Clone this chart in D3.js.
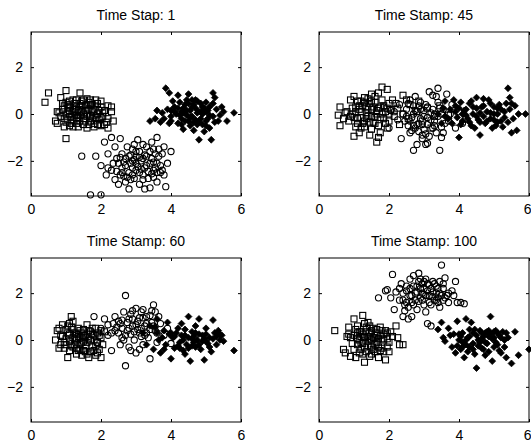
<!DOCTYPE html>
<html>
<head>
<meta charset="utf-8">
<script src="https://cdn.jsdelivr.net/npm/d3@7"></script>
<style>
  html, body { margin: 0; padding: 0; background: #ffffff; }
  svg { display: block; }
  text { font-family: "Liberation Sans", Arial, sans-serif; }
</style>
</head>
<body>
<svg id="chart" width="531" height="444"></svg>
<script>
// Panel titles
const titles = ["Time Stap: 1", "Time Stamp: 45", "Time Stamp: 60", "Time Stamp: 100"];

// Axis ranges and ticks
const xDomain = [0, 6];
const yDomain = [-3.5, 3.5];
const xTicks = [0, 2, 4, 6];
const yTicks = [-2, 0, 2];

// Flat [x, y, x, y, ...] lists, one per class and time stamp
// Time stamp 1
const squares1 = [0.5,0.9,0.4,0.5,1.0,1.0,1.4,0.9,0.85,0.7,1.2,0.6,1.6,0.65,1.85,0.6,1.7,0.4,2.3,0.3,2.3,0.1,2.2,-0.2,2.2,-0.6,2.0,-0.5,1.8,-0.4,1.6,-0.6,1.35,-0.55,1.1,-0.5,1.0,-1.05,0.95,-0.55,0.75,-0.4,0.7,-0.3,0.75,0.1,0.9,0.2,1.0,0.0,1.1,0.3,1.2,0.1,1.3,-0.2,1.4,0.3,1.5,0.0,1.55,-0.3,1.65,0.2,1.7,-0.1,1.8,0.2,1.9,0.0,2.0,0.3,2.05,-0.1,1.95,-0.25,1.25,0.45,1.45,0.55,1.05,-0.25,0.85,-0.1,1.15,-0.1,1.35,0.15,1.55,0.35,1.75,0.1,1.85,-0.15,1.6,-0.1,1.3,-0.4,1.5,-0.45,1.2,0.25,0.95,0.35,1.4,-0.05,1.0,0.5,2.1,0.15,1.9,0.45,1.65,0.5,1.45,0.1,1.25,-0.05,2.15,-0.35,0.8,0.05,1.1,0.15,1.3,0.3,1.7,-0.3,1.6,0.15,1.05,0.1,
  0.9,0.45,1.0,-0.35,1.1,0.55,1.2,-0.25,1.3,0.6,1.4,-0.3,1.5,0.6,1.6,0.4,1.7,0.6,1.8,-0.55,1.9,-0.45,2.0,0.55,2.1,-0.45,2.2,0.35,1.15,-0.4,1.35,-0.15,1.45,0.35,1.55,0.15,1.65,-0.45,1.75,0.4,1.85,0.3,1.95,0.15,2.05,0.05,1.25,0.2,1.05,0.4,0.95,-0.2,1.5,-0.2,1.8,-0.05,1.4,0.45,1.2,-0.55,2.35,-0.3,2.0,-0.15,1.1,0.0,1.3,-0.05,1.6,0.0,1.75,-0.2];
const circles1 = [1.45,-1.8,1.7,-3.45,2.0,-3.45,2.1,-1.2,2.3,-1.0,2.55,-1.05,2.4,-1.4,2.2,-1.7,2.0,-2.2,1.85,-1.8,2.15,-2.6,2.3,-2.4,2.5,-3.0,2.4,-2.8,2.55,-2.6,2.7,-2.9,2.8,-3.2,2.95,-2.75,3.1,-3.0,3.25,-3.2,3.4,-3.15,3.5,-2.7,3.6,-2.9,3.85,-3.1,3.8,-2.6,3.7,-2.2,3.9,-2.1,3.75,-1.7,3.8,-1.4,3.6,-1.0,3.45,-1.2,3.3,-1.4,3.2,-1.3,3.05,-1.1,2.9,-1.5,2.75,-1.4,2.6,-1.7,2.7,-1.9,2.85,-2.1,3.0,-1.8,3.15,-2.0,3.3,-2.2,3.45,-1.9,3.55,-2.3,3.65,-1.8,2.5,-2.1,2.6,-2.3,2.8,-2.5,3.0,-2.4,3.2,-2.6,3.35,-2.45,2.9,-2.0,3.05,-2.25,2.65,-2.05,3.1,-1.6,3.4,-1.6,2.45,-1.9,2.35,-2.1,3.5,-2.05,2.95,-1.3,3.25,-1.75,2.75,-2.7,3.6,-2.5,4.0,-1.6,2.2,-2.3,3.15,-2.35,2.85,-1.75,
  2.6,-2.5,2.7,-2.2,2.8,-1.8,2.9,-2.3,3.0,-2.1,3.1,-2.5,3.2,-1.9,3.3,-1.8,3.4,-2.1,3.5,-2.4,3.6,-2.1,3.7,-2.5,3.65,-1.5,3.5,-1.5,2.9,-2.6,3.0,-1.6,2.85,-2.8,3.2,-2.8,2.55,-1.85,2.45,-2.45,3.35,-2.75,3.1,-1.85,3.25,-2.3,2.95,-1.95,3.45,-2.55,2.65,-2.65,3.55,-1.7,3.75,-2.4];
const diamonds1 = [3.85,1.1,3.95,0.9,4.2,0.8,4.5,0.85,4.7,0.6,5.2,0.9,5.25,0.7,5.0,0.5,4.9,0.3,3.4,-0.3,3.6,0.15,3.7,-0.35,3.55,-0.2,3.8,-0.2,3.9,0.2,4.0,-0.1,4.1,0.3,4.2,-0.4,4.3,0.1,4.35,-0.65,4.4,0.4,4.5,-0.3,4.55,0.15,4.6,-0.1,4.7,0.25,4.75,-0.45,4.8,-1.1,4.85,-0.2,4.9,0.0,5.0,-0.3,5.05,0.15,5.1,-0.6,5.15,-1.1,5.2,-0.1,5.3,0.2,5.4,-0.05,5.5,0.1,5.6,-0.3,5.8,0.05,4.45,0.6,4.25,0.5,4.05,0.55,4.65,-0.7,4.95,-0.75,4.15,0.0,4.45,-0.05,4.65,0.4,4.8,0.1,5.1,0.3,4.35,0.25,3.75,0.05,4.0,-0.3,4.3,-0.2,4.55,-0.5,4.75,0.05,5.0,0.1,4.9,-0.45,5.25,-0.35,4.6,0.3,4.85,0.45,
  4.1,0.1,4.2,0.25,4.3,-0.45,4.4,-0.3,4.5,0.45,4.6,0.6,4.7,-0.25,4.8,-0.35,4.9,0.15,5.0,-0.5,5.1,-0.05,5.2,0.45,4.45,0.15,4.55,-0.15,4.65,-0.35,4.95,0.25,5.05,-0.2,4.25,-0.05,4.0,0.15,3.95,-0.4,5.35,-0.3,5.45,0.3,4.75,0.55,4.35,0.05];

// Time stamp 45
const squares45 = [0.6,0.3,0.6,-0.5,0.55,-0.05,0.7,-0.2,0.9,0.6,1.0,0.75,1.0,-0.95,1.15,-0.8,1.3,0.7,1.5,0.85,1.7,0.9,1.8,1.15,1.95,1.05,2.1,0.6,2.4,0.8,2.0,0.45,1.65,-1.2,1.7,-1.0,1.45,-0.9,1.3,-0.55,0.85,-0.3,0.95,0.0,1.05,0.3,1.1,-0.2,1.2,0.1,1.25,-0.4,1.35,0.3,1.4,-0.1,1.5,0.2,1.55,-0.35,1.6,0.5,1.65,0.0,1.7,-0.5,1.75,0.3,1.85,-0.2,1.9,0.1,2.0,-0.3,2.05,0.2,2.15,-0.1,2.25,0.25,2.3,-0.45,2.4,0.0,2.55,-0.2,2.6,0.4,2.7,-0.5,2.8,0.1,2.95,-0.3,3.1,0.25,3.3,-0.1,3.45,0.35,3.7,-0.05,3.2,-0.6,2.85,0.55,1.2,0.55,1.45,0.45,0.8,0.1,1.05,-0.55,1.35,-0.2,1.6,-0.15,1.8,0.6,1.95,-0.6,2.2,0.45,1.15,0.35,1.5,-0.65,1.75,-0.8,2.5,0.6,
  0.95,0.25,1.0,-0.15,1.05,0.1,1.1,-0.4,1.15,0.2,1.2,-0.15,1.25,0.35,1.3,-0.3,1.35,0.05,1.4,0.2,1.45,-0.35,1.5,-0.1,1.55,0.3,1.6,-0.4,1.65,0.15,1.7,0.25,1.75,-0.15,1.8,0.0,1.85,0.35,1.9,-0.4,1.95,0.25,2.0,0.0,1.3,0.5,1.1,0.55,1.5,0.55,1.2,-0.6,0.9,-0.1,0.75,0.05,1.4,0.65,1.6,0.75];
const circles45 = [1.85,0.3,2.0,-0.6,2.15,0.1,2.3,0.4,2.35,-1.05,2.5,0.2,2.6,-0.8,2.6,0.6,2.7,-1.55,2.8,-1.3,2.75,0.75,2.85,-0.4,2.9,0.5,2.95,-0.9,3.0,-0.1,3.05,-1.3,3.1,-1.25,3.1,0.3,3.15,0.95,3.25,0.8,3.3,-0.5,3.4,1.1,3.45,-1.55,3.5,0.0,3.55,-0.8,3.65,0.85,3.7,-0.3,3.8,0.4,3.9,-0.6,4.0,0.1,4.1,-0.4,4.2,-0.2,2.45,-0.3,2.55,-0.5,2.65,-0.15,2.75,-0.6,2.8,0.1,2.9,-0.2,3.0,-0.65,3.05,0.4,3.2,-0.25,3.25,0.2,3.35,-0.8,3.4,0.5,3.6,-0.4,3.15,-0.95,2.95,-1.05,2.7,0.35,2.25,-0.25,3.75,0.0,3.5,-1.0,2.85,-0.75,3.1,-0.45,2.4,0.0,3.3,0.0,2.05,0.15,
  2.5,-0.1,2.6,-0.3,2.7,0.0,2.8,-0.45,2.9,0.2,3.0,0.15,3.1,-0.15,3.2,0.05,3.3,-0.3,3.4,-0.1,3.5,-0.55,2.65,-0.7,2.95,-0.45,3.25,-0.6,3.45,0.25,2.85,0.35,3.05,-0.85,2.75,0.15,3.55,0.2,3.35,0.75,2.55,0.45];
const diamonds45 = [3.4,0.0,3.5,-0.4,3.6,0.55,3.7,-0.2,3.85,0.6,3.9,0.1,4.0,-1.0,4.05,0.5,4.1,-0.3,4.2,0.2,4.3,0.45,4.35,-0.5,4.4,0.0,4.5,0.7,4.55,-0.25,4.6,-0.9,4.65,0.3,4.7,0.65,4.75,-0.4,4.8,0.1,4.85,0.6,4.9,-0.2,5.0,0.3,5.05,-0.5,5.1,0.0,5.15,0.4,5.2,-0.3,5.3,0.1,5.35,0.45,5.4,1.1,5.45,0.7,5.5,-0.8,5.55,-0.2,5.6,0.35,5.65,-0.7,5.7,0.0,5.9,0.0,5.45,0.2,5.25,-0.55,4.95,-0.6,4.45,-0.6,4.25,-0.2,4.05,-0.45,3.8,-0.4,4.15,0.15,4.5,0.25,4.7,-0.1,4.9,0.45,5.1,-0.35,3.95,-0.15,4.35,0.55,4.6,0.05,5.0,0.0,3.75,0.2,
  4.2,-0.05,4.4,0.3,4.6,-0.35,4.8,-0.3,5.0,-0.25,5.2,0.2,4.3,-0.35,4.5,-0.1,4.7,0.35,4.9,0.05,5.1,0.25,5.3,-0.15,3.9,0.35,4.1,0.0,5.4,-0.35,5.5,0.45,4.0,0.25,3.6,-0.1,3.55,0.25];

// Time stamp 60
const squares60 = [0.7,0.0,0.75,0.4,0.8,-0.35,0.85,0.2,0.9,0.65,0.95,-0.1,1.0,0.45,1.05,-0.75,1.1,0.25,1.15,1.0,1.2,0.8,1.2,-0.3,1.25,0.05,1.3,-0.6,1.35,0.5,1.4,-0.2,1.45,0.3,1.5,-0.45,1.55,0.1,1.6,0.65,1.6,-0.1,1.65,-0.75,1.7,0.35,1.75,-0.3,1.8,0.0,1.85,0.5,1.9,-0.55,1.95,0.2,2.0,-0.75,2.05,-0.2,2.1,0.35,1.0,0.05,1.1,-0.45,1.3,0.25,1.5,0.45,1.7,0.0,1.4,0.1,1.25,-0.2,0.95,-0.35,1.15,0.55,1.55,-0.25,1.75,0.25,1.9,-0.1,1.35,-0.45,1.45,-0.65,1.65,0.4,2.0,0.1,0.9,0.15,1.05,0.3,1.8,-0.45,
  1.0,-0.2,1.05,0.6,1.1,-0.05,1.15,-0.25,1.2,0.45,1.25,0.3,1.3,-0.35,1.35,0.15,1.4,0.4,1.45,-0.1,1.5,0.2,1.55,-0.5,1.6,0.25,1.65,0.05,1.7,-0.5,1.75,0.5,1.8,0.2,1.85,-0.25,1.9,0.3,1.95,-0.4,2.0,0.4,1.3,0.0,1.5,-0.05,1.2,0.1,1.4,-0.4,0.85,-0.2,0.8,0.5,1.1,0.7,1.6,-0.6,1.85,-0.65];
const circles60 = [1.8,1.0,1.9,-0.1,2.0,0.5,2.1,0.9,2.2,0.2,2.3,-0.45,2.35,0.7,2.4,1.0,2.5,0.3,2.55,-0.2,2.6,0.85,2.65,1.2,2.7,1.9,2.7,-1.1,2.75,0.4,2.8,-0.3,2.85,1.1,2.9,0.6,2.95,0.0,3.0,1.35,3.0,-0.55,3.05,0.8,3.1,0.3,3.15,1.2,3.2,-0.2,3.25,0.6,3.3,1.0,3.35,0.1,3.4,-0.8,3.45,0.75,3.5,1.5,3.55,0.4,3.6,-0.1,3.7,0.7,3.8,0.2,3.9,0.5,4.0,-0.15,2.45,0.55,2.6,0.1,2.8,0.9,3.05,0.45,3.2,0.95,3.3,0.3,3.45,1.25,2.9,1.25,2.55,0.7,3.1,-0.4,2.85,0.25,3.4,0.45,3.65,1.0,3.15,0.15,
  2.4,0.4,2.5,0.8,2.6,0.5,2.7,0.2,2.75,0.75,2.8,0.5,2.9,0.9,2.95,0.35,3.0,0.65,3.1,0.95,3.15,0.5,3.25,0.2,3.3,0.7,3.4,1.05,3.5,0.6,3.6,0.3,2.65,0.0,2.85,-0.45,3.2,1.3,3.55,1.2,2.3,0.3,2.2,0.65];
const diamonds60 = [3.2,0.3,3.3,-0.2,3.4,0.6,3.5,-0.4,3.6,0.9,3.65,0.0,3.7,-0.55,3.8,0.4,3.85,-0.2,3.9,0.75,4.0,-0.8,4.05,0.1,4.1,-0.35,4.2,0.5,4.25,-0.1,4.3,0.7,4.35,-0.45,4.4,0.2,4.45,-0.2,4.5,1.0,4.55,-0.9,4.6,0.35,4.65,-0.1,4.7,0.6,4.75,0.0,4.8,0.9,4.85,-0.4,4.9,0.2,4.95,-0.85,5.0,0.5,5.05,-0.15,5.1,0.1,5.15,-0.5,5.2,0.85,5.25,0.3,5.3,-0.2,5.35,0.4,5.4,0.0,5.45,0.2,5.8,-0.45,4.15,0.3,4.4,-0.6,4.6,0.05,4.8,-0.2,5.0,-0.05,3.95,0.25,4.7,0.3,4.25,-0.35,4.5,0.1,3.75,0.1,
  4.0,0.3,4.1,0.15,4.2,-0.25,4.3,0.2,4.4,0.45,4.5,-0.35,4.6,-0.25,4.7,-0.3,4.8,0.25,4.9,-0.05,5.0,0.25,5.1,-0.3,5.2,0.05,5.3,0.15,3.6,0.3,3.8,-0.4,3.55,0.55,4.35,0.0,4.65,0.15,4.95,0.05,5.4,0.25,5.5,-0.05];

// Time stamp 100
const squares100 = [0.45,0.4,0.7,-0.4,0.75,-0.55,0.8,0.15,0.85,0.55,0.9,-0.7,1.0,0.9,1.05,-0.75,1.1,0.6,1.15,0.0,1.2,-0.4,1.25,1.05,1.3,-0.95,1.35,0.35,1.4,-0.25,1.45,0.6,1.5,-0.6,1.55,0.1,1.6,-0.2,1.65,0.45,1.7,-0.75,1.75,0.2,1.8,-0.35,1.85,0.0,1.9,-0.85,1.95,0.3,2.0,-0.1,2.1,0.15,2.2,0.6,2.3,-0.2,2.4,-0.2,1.0,0.2,1.1,-0.2,1.2,0.35,1.3,0.1,1.35,-0.5,1.45,0.05,1.55,-0.4,1.6,0.3,1.7,0.05,1.75,-0.45,1.8,0.4,0.95,-0.15,1.25,-0.15,1.5,0.4,1.4,0.15,1.65,-0.1,1.85,0.25,0.9,0.1,1.15,-0.55,1.95,-0.3,2.05,0.35,
  1.0,-0.4,1.05,0.45,1.1,0.05,1.15,0.35,1.2,-0.1,1.25,0.25,1.3,-0.3,1.35,0.55,1.4,-0.05,1.45,0.3,1.5,0.0,1.55,0.5,1.6,-0.5,1.65,0.2,1.7,-0.3,1.75,0.55,1.8,0.05,1.85,-0.5,1.9,0.4,1.95,0.05,2.0,-0.5,1.3,0.7,1.4,0.75,1.5,-0.3,1.2,0.15,1.1,0.3,1.6,0.1,0.85,0.25,1.45,-0.7,1.25,-0.6,2.25,0.1];
const circles100 = [1.7,1.8,1.95,2.15,2.05,1.8,2.1,2.8,2.15,1.3,2.2,2.05,2.3,1.7,2.35,2.4,2.4,1.0,2.45,1.5,2.5,2.1,2.55,0.9,2.6,2.6,2.65,1.6,2.7,2.75,2.75,2.0,2.8,1.3,2.85,2.85,2.9,1.8,2.95,2.4,3.0,1.5,3.05,2.6,3.1,0.7,3.1,2.1,3.15,1.9,3.2,0.6,3.25,2.5,3.3,1.7,3.35,2.3,3.4,1.6,3.45,2.0,3.5,3.2,3.55,1.7,3.6,2.65,3.65,1.9,3.7,1.6,3.8,2.1,3.85,1.9,3.9,2.5,3.95,1.6,4.05,1.6,4.15,1.55,2.6,1.9,2.8,2.3,3.0,2.2,3.2,1.5,3.35,2.0,2.7,1.5,2.95,2.0,3.15,2.35,2.5,1.6,3.45,1.4,2.85,1.65,3.05,1.2,3.55,2.2,2.4,2.0,1.9,2.1,
  2.5,2.3,2.6,2.2,2.65,1.9,2.7,2.3,2.75,1.7,2.8,2.05,2.85,2.5,2.9,2.2,2.95,1.7,3.0,2.5,3.05,1.9,3.1,2.4,3.15,1.6,3.2,2.2,3.25,1.85,3.3,2.4,3.35,1.7,3.4,2.2,3.45,2.5,3.5,1.9,3.55,2.4,3.6,1.8,3.7,2.0,2.55,1.4,2.4,1.7,2.3,2.2,2.45,1.25,2.65,1.0,3.4,1.8,3.0,1.95,2.9,2.6,3.25,2.05];
const diamonds100 = [3.4,0.45,3.5,0.75,3.55,0.1,3.6,-0.05,3.7,0.5,3.75,0.2,3.8,-0.3,3.9,-0.55,3.95,0.8,4.0,0.0,4.05,-0.4,4.1,0.3,4.15,-0.75,4.2,0.9,4.25,0.1,4.3,-0.3,4.35,0.75,4.4,0.3,4.45,-0.6,4.5,-1.2,4.55,0.0,4.6,0.4,4.65,-0.35,4.7,0.15,4.75,-0.1,4.8,0.35,4.85,-0.5,4.9,1.0,4.95,-0.9,5.0,0.1,5.05,0.4,5.1,-0.2,5.15,0.2,5.2,-0.55,5.25,0.35,5.3,0.0,5.35,-0.75,5.4,0.1,5.5,-1.0,5.6,0.35,5.7,-0.65,6.0,-0.4,4.2,0.0,4.4,-0.15,4.65,0.05,4.85,0.15,5.05,-0.1,4.3,0.45,4.55,-0.25,4.75,0.3,4.95,0.05,3.85,0.25,4.1,-0.1,
  4.0,0.25,4.1,-0.3,4.2,-0.2,4.3,0.15,4.4,-0.4,4.5,0.2,4.6,-0.1,4.7,-0.4,4.8,-0.15,4.9,0.25,5.0,-0.3,5.1,0.3,5.2,0.1,5.3,-0.3,5.0,0.35,4.45,0.45,4.85,0.4,4.25,-0.5,4.65,0.3,5.15,-0.45,3.95,-0.25,4.05,0.15,5.35,0.3,4.75,-0.65];

const panelData = [
  { squares: squares1,   circles: circles1,   diamonds: diamonds1 },
  { squares: squares45,  circles: circles45,  diamonds: diamonds45 },
  { squares: squares60,  circles: circles60,  diamonds: diamonds60 },
  { squares: squares100, circles: circles100, diamonds: diamonds100 }
];

// Plot-box layout for the 2x2 grid
const boxLefts = [31, 319];
const boxTops = [32, 258];
const boxW = 210, boxH = 164;

const svg = d3.select("#chart");

function pairs(flat) {
  const out = [];
  for (let i = 0; i < flat.length; i += 2) out.push([flat[i], flat[i + 1]]);
  return out;
}

panelData.forEach((pd, i) => {
  const col = i % 2, row = Math.floor(i / 2);
  const left = boxLefts[col], top = boxTops[row];
  const x = d3.scaleLinear().domain(xDomain).range([0, boxW]);
  const y = d3.scaleLinear().domain(yDomain).range([boxH, 0]);

  const g = svg.append("g").attr("transform", `translate(${left},${top})`);

  // title
  g.append("text")
    .attr("x", boxW / 2).attr("y", -12)
    .attr("text-anchor", "middle")
    .attr("font-size", 14)
    .attr("fill", "#000")
    .text(titles[i]);

  // markers
  const sq = 6, cr = 3.1, dm = 3.4;
  g.append("g").selectAll("rect").data(pairs(pd.squares)).join("rect")
    .attr("x", d => x(d[0]) - sq / 2).attr("y", d => y(d[1]) - sq / 2)
    .attr("width", sq).attr("height", sq)
    .attr("fill", "none").attr("stroke", "#000").attr("stroke-width", 1.1);

  g.append("g").selectAll("circle").data(pairs(pd.circles)).join("circle")
    .attr("cx", d => x(d[0])).attr("cy", d => y(d[1])).attr("r", cr)
    .attr("fill", "none").attr("stroke", "#000").attr("stroke-width", 1.1);

  g.append("g").selectAll("path").data(pairs(pd.diamonds)).join("path")
    .attr("d", d => {
      const cx = x(d[0]), cy = y(d[1]);
      return `M${cx},${cy - dm}L${cx + dm},${cy}L${cx},${cy + dm}L${cx - dm},${cy}Z`;
    })
    .attr("fill", "#000").attr("stroke", "#000").attr("stroke-width", 0.8);

  // axes with inward ticks, mirrored on the opposite sides
  const inner = 3;
  const axB = g.append("g").attr("transform", `translate(0,${boxH})`)
    .call(d3.axisBottom(x).tickValues(xTicks).tickSizeInner(-inner).tickSizeOuter(0).tickPadding(8).tickFormat(d3.format("d")));
  const axT = g.append("g")
    .call(d3.axisTop(x).tickValues(xTicks).tickSizeInner(-inner).tickSizeOuter(0).tickFormat(""));
  const axL = g.append("g")
    .call(d3.axisLeft(y).tickValues(yTicks).tickSizeInner(-inner).tickSizeOuter(0).tickPadding(8).tickFormat(d3.format("d")));
  const axR = g.append("g").attr("transform", `translate(${boxW},0)`)
    .call(d3.axisRight(y).tickValues(yTicks).tickSizeInner(-inner).tickSizeOuter(0).tickFormat(""));
  [axB, axT, axL, axR].forEach(a => {
    a.select(".domain").remove();
    a.selectAll("line").attr("stroke", "#000");
    a.selectAll("text").attr("font-size", 14).attr("fill", "#000")
      .attr("font-family", "'Liberation Sans', Arial, sans-serif");
  });
  // the last x label of the right column sits at the page edge; keep it inside
  if (col === 1) {
    axB.selectAll(".tick").filter(d => d === xDomain[1]).select("text")
      .attr("text-anchor", "end").attr("x", 2);
  }

  // box
  g.append("rect").attr("x", 0).attr("y", 0).attr("width", boxW).attr("height", boxH)
    .attr("fill", "none").attr("stroke", "#000").attr("stroke-width", 1);
});
</script>
</body>
</html>
